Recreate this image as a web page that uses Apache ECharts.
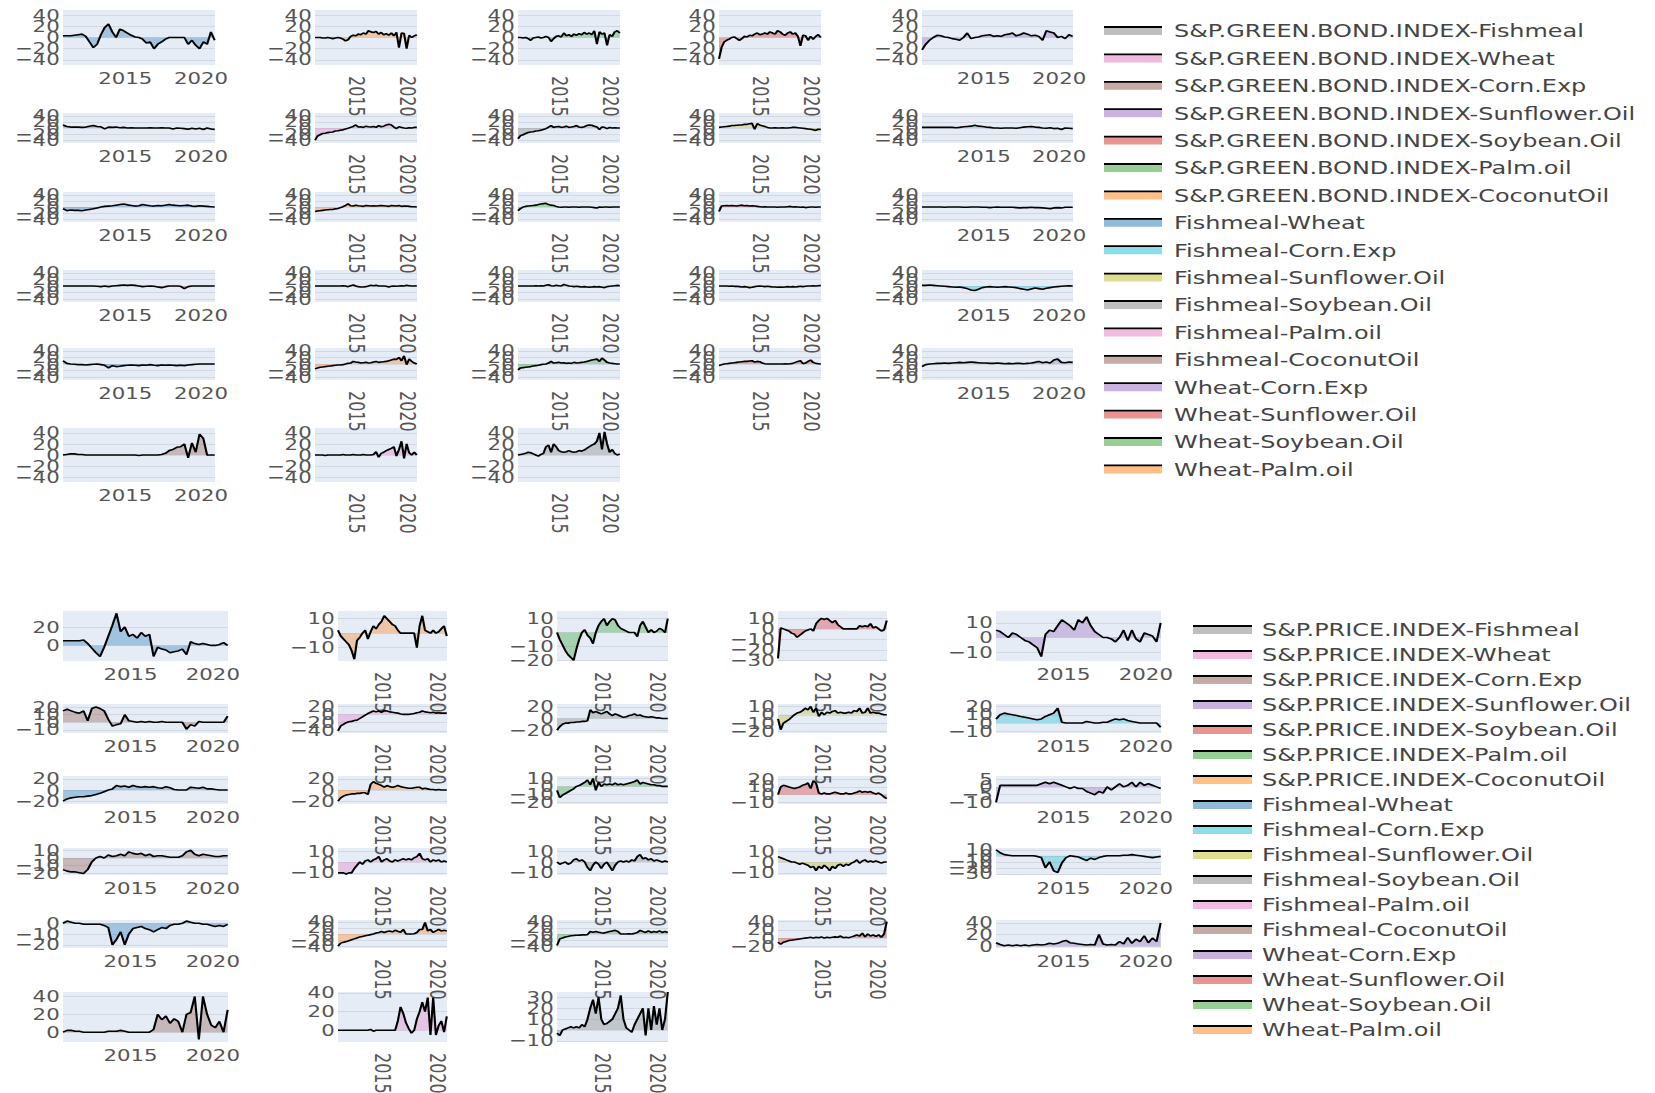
<!DOCTYPE html>
<html><head><meta charset="utf-8">
<script src="https://cdn.jsdelivr.net/npm/echarts@6/dist/echarts.min.js"></script>
<style>
html,body{margin:0;padding:0;background:#fff}
#wrap{width:1655px;height:1093px;overflow:hidden;position:relative}
#chart{width:1244px;height:1093px;transform:scaleX(1.33039);transform-origin:0 0}
</style>
</head><body><div id="wrap"><div id="chart"></div></div>
<script>
// ---------------- DATA ----------------
const dates = [2010.9, 2011.15, 2011.4, 2011.65, 2011.9, 2012.15, 2012.4, 2012.65, 2012.9, 2013.15, 2013.4, 2013.65, 2013.9, 2014.15, 2014.4, 2014.65, 2014.9, 2015.15, 2015.4, 2015.65, 2015.9, 2016.15, 2016.4, 2016.65, 2016.9, 2017.15, 2017.4, 2017.65, 2017.9, 2018.15, 2018.4, 2018.65, 2018.9, 2019.15, 2019.4, 2019.65, 2019.9, 2020.15, 2020.4, 2020.65, 2020.9];
const xTickYears = [2015, 2020];
const indexPartners = ['Fishmeal', 'Wheat', 'Corn.Exp', 'Sunflower.Oil', 'Soybean.Oil', 'Palm.oil', 'CoconutOil'];
const commodityPairs = ['Fishmeal-Wheat', 'Fishmeal-Corn.Exp', 'Fishmeal-Sunflower.Oil', 'Fishmeal-Soybean.Oil', 'Fishmeal-Palm.oil', 'Fishmeal-CoconutOil', 'Wheat-Corn.Exp', 'Wheat-Sunflower.Oil', 'Wheat-Soybean.Oil', 'Wheat-Palm.oil', 'Wheat-CoconutOil', 'Corn.Exp-Sunflower.Oil', 'Corn.Exp-Soybean.Oil', 'Corn.Exp-Palm.oil', 'Corn.Exp-CoconutOil', 'Sunflower.Oil-Soybean.Oil', 'Sunflower.Oil-Palm.oil', 'Sunflower.Oil-CoconutOil', 'Soybean.Oil-Palm.oil', 'Soybean.Oil-CoconutOil', 'Palm.oil-CoconutOil'];
const greenBondIndex = 'S&P.GREEN.BOND.INDEX';
const priceIndex = 'S&P.PRICE.INDEX';
const legendShown = 17;

// top panel (S&P.GREEN.BOND.INDEX) — one list per facet, facets in reading order
const greenBondValues = [
  [3,3,3,4,5,6,2,-8,-18,-12,5,18,24,10,0,15,12,8,4,1,0,-3,-10,-8,-20,-12,-8,-3,0,0,0,0,0,-12,-5,-14,-20,-8,-12,10,-5],
  [0,0,0,-1,-1,0,-1,-2,-1,0,-1,-3,-6,-4,2,4,3,6,5,8,6,12,10,9,11,6,9,5,7,4,8,3,9,-18,8,7,-20,4,0,3,5],
  [0,0,-1,0,-2,-5,-1,0,1,-1,0,2,0,-7,-2,2,3,1,8,3,5,2,6,4,7,5,9,6,8,5,12,-12,10,6,8,-14,5,2,10,12,8],
  [-38,-18,-8,-5,-3,0,1,-2,-5,-2,2,1,4,3,6,8,5,6,8,6,10,8,6,12,10,6,4,8,10,6,8,2,-15,4,3,-5,2,-3,2,5,0],
  [-22,-12,-5,0,4,3,1,0,-2,-3,-5,0,8,-2,0,1,3,4,5,2,3,2,5,6,8,3,5,8,6,3,4,2,-5,12,10,8,0,2,-2,5,2],
  [10,5,3,3,3,2,3,6,8,5,4,-3,3,2,3,1,2,0,1,0,0,0,0,1,0,0,1,0,0,-3,0,-1,-2,-4,-1,-3,-1,-5,0,-3,-5],
  [-40,-26,-22,-18,-17,-15,-14,-13,-10,-9,-7,-6,-3,-1,2,5,10,3,4,2,6,4,3,5,2,8,4,6,10,12,10,3,-2,4,2,0,-1,1,0,2,2],
  [-35,-25,-22,-18,-15,-13,-12,-10,-9,-7,-5,-2,3,8,2,4,5,2,3,6,2,3,5,8,3,2,4,8,10,9,6,3,-5,3,2,-2,2,0,1,0,0],
  [2,3,4,5,6,8,8,9,10,10,12,12,14,15,-4,14,10,7,5,2,0,0,1,0,0,1,0,0,1,2,2,1,0,-1,-2,-3,-4,-6,-8,-4,-5],
  [2,2,2,2,2,2,2,2,2,1,2,4,5,6,9,6,5,3,2,0,0,-1,0,0,0,-1,1,3,4,5,3,2,0,-1,1,-2,-1,-5,0,-1,-2],
  [-5,-12,-10,-11,-11,-12,-10,-8,-6,-3,0,2,3,4,6,8,10,7,5,3,4,8,6,4,3,5,4,6,8,6,5,4,5,6,3,2,4,3,2,1,0],
  [-15,-13,-12,-11,-10,-9,-8,-8,-6,-5,-2,1,5,10,4,3,6,4,3,2,5,4,3,4,3,4,5,4,3,2,5,4,3,5,2,3,3,2,1,1,0],
  [-12,-5,0,2,3,4,5,6,8,10,11,12,8,6,5,2,0,-1,0,0,-1,0,0,0,-1,0,0,0,0,-1,-2,-3,0,-1,0,0,-1,0,0,0,0],
  [-15,3,4,5,4,5,4,3,5,6,4,5,3,4,3,2,1,0,1,0,0,0,0,-1,0,0,0,1,2,0,1,0,-1,0,-2,-1,0,0,-1,0,0],
  [0,0,0,0,0,0,-1,0,0,0,0,-1,-1,0,0,0,-1,-1,-2,-1,0,-1,-1,-1,-1,-2,-3,-2,-2,-1,-2,-2,-3,-4,-6,-3,-2,-3,-1,-1,-1],
  [0,0,0,0,0,0,0,0,0,-1,-2,0,-2,0,1,2,3,2,3,2,0,-2,-1,0,-1,-3,-5,-2,0,0,0,-1,-8,-2,0,0,0,0,0,0,0],
  [0,0,0,0,0,0,0,0,0,0,0,1,0,-2,1,3,0,-2,-3,-3,-2,0,2,1,2,0,0,0,-1,-3,-1,0,-1,0,1,0,2,1,0,0,1],
  [0,0,0,0,0,0,0,1,0,1,0,2,4,1,0,2,1,0,5,2,0,-1,-2,-1,-2,-3,-2,-3,-4,-3,-2,-3,-2,-4,-5,-2,-1,0,1,2,1],
  [0,0,0,0,-1,0,-1,-1,-2,-3,-2,-3,-5,-4,-2,-1,0,-1,-2,-1,-2,-3,-3,-4,-3,-4,-3,-2,-3,-2,-3,-2,-1,-2,-1,0,0,1,0,1,2],
  [2,2,3,2,1,0,-1,-2,-3,-4,-3,-5,-8,-12,-14,-10,-5,-3,-2,-3,-4,-3,-2,-3,-4,-5,-8,-10,-12,-9,-6,-8,-10,-7,-5,-3,-2,-1,0,1,0],
  [10,2,0,-1,-2,-2,-3,-2,-1,0,-2,-4,-12,-5,-8,-7,-5,-4,-3,-4,-5,-3,-4,-2,-4,-5,-3,-4,-3,-4,-5,-4,-5,-3,-2,-1,0,0,0,0,0],
  [-15,-12,-10,-9,-8,-7,-6,-5,-4,-3,-3,-2,0,2,3,8,6,5,3,4,5,3,4,6,8,5,6,7,8,10,12,15,14,20,10,25,-2,15,8,3,0],
  [-18,-12,-11,-10,-9,-8,-6,-5,-4,-2,-1,0,3,8,3,4,5,3,4,2,3,2,5,3,4,5,6,8,10,12,14,15,8,18,12,5,3,2,1,0,0],
  [-5,-2,0,1,2,3,4,5,6,7,8,8,9,10,6,8,7,3,1,0,0,0,0,0,0,0,1,0,1,2,5,8,10,1,3,8,12,5,2,1,0],
  [-8,-2,0,1,2,2,3,2,3,4,5,4,5,6,5,4,3,3,2,2,3,2,1,2,1,2,2,1,2,3,5,8,4,6,3,12,15,5,4,6,5],
  [0,1,2,2,1,1,0,0,0,0,0,0,0,0,0,0,0,0,0,0,-1,0,0,0,0,0,1,3,8,10,14,15,20,-5,22,5,38,30,0,0,0],
  [0,0,0,0,-1,0,0,0,0,0,0,1,0,0,0,1,0,0,0,1,0,0,0,1,6,-4,3,5,8,10,12,15,-2,10,25,-6,20,4,0,5,0],
  [0,1,2,3,5,4,2,0,-2,1,3,15,18,5,20,15,8,6,5,6,8,6,5,6,8,7,9,12,15,18,20,25,40,10,42,20,5,10,3,0,2]
];
const greenBondYMin = -49, greenBondYMax = 49;
const greenBondYTicks = [-40, -20, 0, 20, 40];

// bottom panel (S&P.PRICE.INDEX)
const priceValues = [
  [5,5,5,5,5,6,2,-3,-8,-12,-2,10,22,35,15,20,10,12,8,14,10,12,-12,-2,-4,-5,-8,-7,-6,-4,-10,4,2,1,2,1,0,0,1,3,0],
  [2,-2,-4,-6,-8,-12,-18,-5,-3,0,2,-4,1,5,3,6,8,12,10,8,6,5,2,0,0,0,0,0,0,-10,5,12,2,1,0,2,0,1,3,5,-2],
  [0,-5,-9,-13,-16,-18,-20,-12,-5,0,2,-2,-4,-8,0,5,8,10,5,8,10,9,5,3,2,1,0,0,0,-3,5,8,4,0,2,0,1,3,2,0,10],
  [-28,1,0,-1,-2,-4,-5,-8,-6,-4,-2,-1,0,-2,5,8,10,9,10,8,6,8,4,2,0,0,0,0,0,0,3,2,3,2,5,1,2,0,-2,-1,8],
  [5,4,2,0,3,2,0,-2,-3,-5,-7,-13,2,5,4,8,12,10,8,5,12,10,14,8,4,2,0,0,-1,-3,0,5,-2,5,-1,-3,3,2,1,-3,10],
  [15,17,15,13,12,15,2,18,20,18,15,4,-5,-3,-2,10,2,1,0,1,0,1,0,0,1,0,0,0,0,0,-9,-3,-5,1,0,0,0,0,0,0,8],
  [-40,-28,-24,-20,-18,-17,-15,-14,-10,-6,-2,2,5,8,6,8,5,9,8,6,5,4,3,1,0,0,0,1,2,4,5,8,6,5,4,5,3,4,3,3,3],
  [-20,-14,-10,-8,-8,-7,-7,-6,-6,-5,-5,-4,15,10,12,10,8,10,12,8,5,8,6,4,2,3,5,6,8,5,6,4,3,2,3,2,1,1,0,0,0],
  [-5,-18,-10,-8,-6,-3,0,2,3,5,8,6,10,3,8,-2,3,0,3,2,4,5,2,3,2,2,3,2,5,4,8,2,3,8,2,3,2,2,1,0,0],
  [5,10,12,11,10,9,8,7,6,5,4,5,8,10,12,18,1,0,0,0,0,0,2,1,0,0,1,1,3,5,4,5,3,2,1,0,0,0,0,0,-5],
  [-20,-16,-14,-13,-12,-12,-11,-10,-8,-6,-3,0,2,8,6,7,5,8,6,5,6,5,6,4,3,6,4,1,0,0,0,5,4,3,5,2,2,1,0,0,0],
  [-20,-14,-11,-9,-8,-7,-7,-6,-6,-5,-5,-8,10,15,12,10,8,5,8,6,5,6,8,6,5,4,3,3,4,5,5,2,3,2,1,1,0,1,0,0,0],
  [-5,-14,-11,-9,-7,-5,-3,0,1,3,5,8,2,10,-5,5,0,3,2,3,2,4,2,3,2,3,4,5,6,8,3,5,4,3,2,2,1,1,0,0,0],
  [0,10,12,11,10,9,8,9,10,12,13,15,8,18,15,2,1,2,1,1,2,3,2,1,1,2,1,1,2,3,5,3,4,3,4,2,1,2,0,-3,-5],
  [-10,1,1,1,1,1,1,1,1,1,1,2,3,2,3,2,1,0,-1,0,-1,-1,-3,-4,-5,-3,-4,0,-2,0,2,0,1,3,0,3,1,2,1,0,-1],
  [-15,-17,-18,-18,-19,-20,-15,-5,0,2,0,4,2,3,5,3,8,6,5,6,3,5,2,3,3,2,1,1,1,3,8,10,5,3,5,4,3,2,2,3,3],
  [-10,-10,-10,-11,-10,-10,-6,-3,0,-2,1,2,0,2,3,5,0,2,3,1,0,2,1,2,3,2,3,2,4,5,8,3,2,3,0,2,1,2,0,1,0],
  [0,-2,-1,0,-2,-1,2,3,1,2,0,-5,-8,-3,0,-2,-6,-2,0,-4,-8,-3,0,1,0,1,0,2,1,5,7,3,4,2,3,1,2,1,0,1,0],
  [5,4,3,2,1,0,0,-1,-2,-1,-2,-3,-5,-4,-8,-4,-6,-3,-5,-8,-4,-6,-3,-2,-4,-2,-3,-1,0,2,-1,1,2,0,1,0,1,0,-1,0,0],
  [10,5,2,1,0,0,0,0,0,0,-1,-3,-20,-10,-25,-28,-12,-3,0,-1,-2,-5,-8,-4,-6,-3,-1,0,0,0,0,1,1,2,1,0,-1,-2,-3,-2,-1],
  [0,2,1,0,0,-1,-1,-1,-1,-1,-2,-4,-20,-15,-8,-20,-10,-5,-4,-3,-5,-6,-8,-6,-4,-5,-2,-1,-1,0,2,1,0,0,-1,-1,-2,-3,-2,-3,-1],
  [-40,-30,-27,-25,-22,-19,-16,-13,-10,-8,-6,-4,-2,0,3,5,8,5,8,10,7,12,9,6,15,0,0,0,1,5,15,15,38,10,15,5,10,15,10,12,10],
  [-38,-16,-13,-10,-8,-6,-5,-4,-4,-3,-3,-2,8,6,8,6,4,3,6,8,10,12,8,0,0,0,1,0,2,5,12,8,5,10,5,8,6,10,5,8,5],
  [-10,-15,-10,-8,-6,-5,-4,-3,-2,-1,0,1,2,0,2,1,3,0,2,1,2,3,2,5,1,2,1,3,5,8,5,12,3,10,5,8,4,8,2,10,40],
  [6,3,1,2,1,2,1,2,1,2,3,2,3,5,4,5,8,10,6,5,4,3,2,3,2,20,4,2,3,2,8,4,15,5,12,8,18,6,14,8,40],
  [0,2,2,1,1,0,0,0,0,0,0,1,1,1,2,1,0,0,0,0,0,0,3,20,14,18,10,15,12,0,20,22,40,-8,40,20,8,5,12,0,25],
  [0,0,0,0,0,0,0,0,0,0,0,0,1,-1,0,0,0,0,0,0,0,0,10,25,18,8,2,-3,0,12,20,30,20,35,-5,35,-5,5,10,-2,15],
  [-3,-5,0,1,2,3,2,3,2,5,3,10,20,28,15,30,10,5,6,8,10,15,20,32,10,2,0,-2,5,10,15,20,-5,20,0,22,5,20,0,10,35]
];
const priceYMin = [-17, -19.2, -20.5, -30.5, -16, -14, -45, -25, -22, -12, -25, -25, -22, -12, -11, -22, -12, -12, -12, -32, -23, -46, -46, -24, -3, -11, -12.5, -11];
const priceYMax = [37.5, 15.3, 15.5, 17, 18, 24, 25, 25, 13, 23, 25, 25, 13, 24, 7, 13, 13, 13, 13, 13, 3, 46, 46, 44, 45, 45, 41, 35];
const priceYStep = [20, 10, 10, 10, 10, 10, 20, 20, 10, 10, 20, 20, 10, 10, 5, 10, 10, 10, 10, 10, 10, 20, 20, 20, 20, 20, 20, 10];

const palette = ['#1f77b4', '#ff7f0e', '#2ca02c', '#d62728', '#9467bd', '#8c564b', '#e377c2', '#7f7f7f', '#bcbd22', '#17becf'];

// ---------------- LAYOUT (final page pixels; the chart box is stretched horizontally by SX) ----------------
const SX = 1655 / 1244;
const topCols = [[63, 215], [315, 417], [518, 620], [719, 821], [922, 1073]];
const topRows = [[10, 65], [113, 143], [192, 222], [270, 302], [348, 380], [428, 482]];
const botCols = [[63, 228], [338, 447], [557, 668], [778, 887], [996, 1161]];
const botRows = [[611, 661], [704, 733], [776, 804], [848, 875], [920, 948], [992, 1042]];
const FONT = 'DejaVu Sans';
const TICK_COLOR = '#555';
const TICK_SIZE = 16;
const GRID_LINE = '#d3d8e0';
const PLOT_BG = '#E5ECF6';

function fillOf(hex, a) {
  const n = parseInt(hex.slice(1), 16);
  return 'rgba(' + (n >> 16) + ',' + ((n >> 8) & 255) + ',' + (n & 255) + ',' + a + ')';
}
function pairName(prefix, j) {
  return j < indexPartners.length ? prefix + '-' + indexPartners[j] : commodityPairs[j - indexPartners.length];
}
function fmtY(v) { return v < 0 ? '\u2212' + Math.abs(v) : String(v); }

const grids = [], xAxes = [], yAxes = [], series = [];
const nFacets = 28;

function addPanel(prefix, valuesList, cols, rows, yInfo) {
  for (let k = 0; k < nFacets; k++) {
    const idx = grids.length;
    const row = Math.floor(k / 5), col = k % 5;
    grids.push({
      left: cols[col][0] / SX, width: (cols[col][1] - cols[col][0]) / SX,
      top: rows[row][0], height: rows[row][1] - rows[row][0],
      show: true, backgroundColor: PLOT_BG, borderWidth: 0,
      containLabel: false, outerBoundsMode: 'none'
    });
    const rotated = col >= 1 && col <= 3;
    xAxes.push({
      type: 'value', gridIndex: idx, min: 2010.9, max: 2020.92,
      axisLine: { show: false }, axisTick: { show: false, customValues: xTickYears }, splitLine: { show: false },
      axisLabel: {
        customValues: xTickYears, rotate: rotated ? -90 : 0, margin: rotated ? 11 : 5,
        showMinLabel: true, showMaxLabel: true, hideOverlap: false,
        fontSize: TICK_SIZE, color: TICK_COLOR, fontFamily: FONT,
        formatter: v => String(Math.round(v))
      }
    });
    const yi = yInfo(k);
    // main value axis: gridlines at the tick values, no labels
    const mainY = yAxes.length;
    yAxes.push({
      type: 'value', gridIndex: idx, min: yi.min, max: yi.max, position: 'left', offset: 0,
      axisLine: { show: false }, axisTick: { show: false, customValues: yi.ticks },
      splitLine: { show: true, lineStyle: { color: GRID_LINE, width: 1 } },
      axisLabel: { show: false }
    });
    // one label-carrying twin axis per tick so that crowded labels all stay visible (as in the reference)
    yi.ticks.forEach(t => {
      yAxes.push({
        type: 'value', gridIndex: idx, min: yi.min, max: yi.max, position: 'left', offset: 0,
        axisLine: { show: false }, axisTick: { show: false, customValues: [t] }, splitLine: { show: false },
        axisLabel: {
          customValues: [t], margin: 2.5, showMinLabel: true, showMaxLabel: true, hideOverlap: false,
          fontSize: TICK_SIZE, color: TICK_COLOR, fontFamily: FONT, formatter: fmtY
        }
      });
    });
    const color = palette[k % palette.length];
    const vals = valuesList[k];
    series.push({
      type: 'line', name: pairName(prefix, nFacets - 1 - k),
      xAxisIndex: idx, yAxisIndex: mainY,
      data: dates.map((d, i) => [d, vals[i]]),
      showSymbol: false, symbol: 'none', silent: true, animation: false,
      lineStyle: { color: '#000', width: 1.6 },
      itemStyle: { color: fillOf(color, 0.5) },
      areaStyle: { color: fillOf(color, 0.5) }
    });
  }
}

addPanel(greenBondIndex, greenBondValues, topCols, topRows, k => ({ min: greenBondYMin, max: greenBondYMax, ticks: greenBondYTicks }));
addPanel(priceIndex, priceValues, botCols, botRows, k => {
  const t = [];
  for (let v = Math.ceil(priceYMin[k] / priceYStep[k]) * priceYStep[k]; v <= priceYMax[k]; v += priceYStep[k]) t.push(v);
  return { min: priceYMin[k], max: priceYMax[k], ticks: t };
});

// legend: a colour band (with its text) plus a thin black line drawn over the band's top edge
function legendPair(prefix, left, top, iconW, gap, textGap) {
  const names = [];
  for (let j = 0; j < legendShown; j++) names.push(pairName(prefix, j));
  const w = iconW / SX;
  const base = {
    orient: 'vertical', left: left / SX, top: top, padding: 0, itemWidth: w, itemGap: gap,
    selectedMode: false, symbolKeepAspect: false,
    textStyle: { fontSize: 18, lineHeight: 20, fontFamily: FONT, color: '#444', padding: [0, 0, 0, Math.max(0, textGap / SX - 5)] }
  };
  const band = Object.assign({}, base, {
    icon: 'rect', itemHeight: 8,
    data: names.map((n, j) => ({ name: n, itemStyle: { color: fillOf(palette[(nFacets - 1 - j) % palette.length], 0.5), borderWidth: 0 } }))
  });
  const line = Object.assign({}, base, {
    itemHeight: 20, formatter: () => '',
    icon: 'path://M0,0h0.05v0.05h-0.05Z M0,5.1h' + w + 'v1.8h-' + w + 'Z M' + (w - 0.05) + ',19.95h0.05v0.05h-0.05Z',
    itemStyle: { color: '#000', borderWidth: 0 },
    data: names.map(n => ({ name: n, itemStyle: { color: '#000', borderWidth: 0 } }))
  });
  return [band, line];
}

const option = {
  backgroundColor: '#fff',
  animation: false,
  grid: grids, xAxis: xAxes, yAxis: yAxes, series: series,
  legend: [].concat(
    legendPair(greenBondIndex, 1104, 21, 58, 7.4, 12),
    legendPair(priceIndex, 1193, 620, 59, 5, 10)
  )
};
const chart = echarts.init(document.getElementById('chart'), null, { renderer: 'svg' });
chart.setOption(option);
</script></body></html>
